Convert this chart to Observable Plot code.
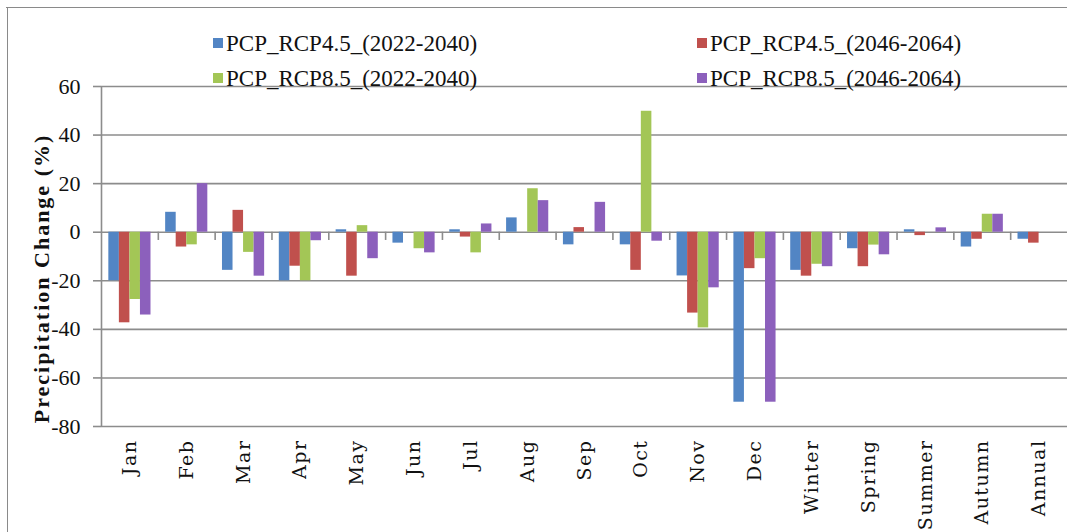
<!DOCTYPE html>
<html><head><meta charset="utf-8">
<script src="https://cdn.jsdelivr.net/npm/d3@7"></script>
<script src="https://cdn.jsdelivr.net/npm/@observablehq/plot@0.6"></script>
<style>
body{margin:0;background:#fff;}
#wrap{position:relative;width:1067px;height:532px;overflow:hidden;background:#fff;}
#wrap svg{position:absolute;left:0;top:0;}
.bt{position:absolute;left:6px;top:7px;right:0;height:0;border-top:1.5px solid #8a8a8a;}
.bl{position:absolute;left:7px;top:7px;bottom:0;width:0;border-left:1.5px solid #8a8a8a;}
.lg{position:absolute;font-family:"Liberation Serif","Times New Roman",Times,serif;font-size:23px;line-height:1;color:#111;white-space:nowrap;display:flex;align-items:center;}
.lg i{display:inline-block;width:10px;height:10px;margin-right:3px;}
.xt text{letter-spacing:1.5px;}
</style></head><body><div id="wrap"></div><script>
const categories = ["Jan","Feb","Mar","Apr","May","Jun","Jul","Aug","Sep","Oct","Nov","Dec","Winter","Spring","Summer","Autumn","Annual"];
const seriesNames = ["PCP_RCP4.5_(2022-2040)","PCP_RCP4.5_(2046-2064)","PCP_RCP8.5_(2022-2040)","PCP_RCP8.5_(2046-2064)"];
const rcp45Early = [-20, 8.2, -15.7, -20, 1.0, -4.5, 1.0, 5.9, -5.2, -5.2, -18, -70, -15.7, -6.8, 1.0, -6.1, -2.9];
const rcp45Late  = [-37.3, -6.1, 9.0, -14, -18.1, 0, -2, 0, 1.9, -15.7, -33.3, -15, -18.1, -14.2, -1.4, -2.9, -4.5];
const rcp85Early = [-27.7, -5.2, -8.3, -20, 2.7, -6.8, -8.5, 17.9, 0, 49.8, -39.4, -10.9, -13.2, -5.3, 0, 7.4, 0];
const rcp85Late  = [-34.1, 20, -18.1, -3.5, -10.9, -8.5, 3.4, 13.0, 12.3, -3.7, -22.9, -70, -14.2, -9.3, 1.8, 7.4, 0];
const yTicks = [-80,-60,-40,-20,0,20,40,60];
const yLabel = "Precipitation Change (%)";
const colors = ["#5285C4","#C0504D","#A3C656","#8C60BC"];

const allSeries = [rcp45Early, rcp45Late, rcp85Early, rcp85Late];
const data = [];
allSeries.forEach((vals, s) => vals.forEach((v, i) => data.push({cat: i, series: seriesNames[s], s, value: v})));

const outer = 0.129, bw = (1 - 2*outer) / 4;
const serif = "Liberation Serif, Times New Roman, serif";

const plot = Plot.plot({
  width: 1067, height: 532,
  marginTop: 86, marginBottom: 106, marginLeft: 101, marginRight: 0,
  style: {background: "transparent", color: "#000", overflow: "visible", fontFamily: serif},
  x: {domain: [0, categories.length], axis: null},
  y: {domain: [-80, 60], axis: null},
  color: {domain: seriesNames, range: colors},
  marks: [
    Plot.gridY(yTicks, {stroke: "#8c8c8c", strokeOpacity: 1, strokeWidth: 1.6}),
    Plot.axisY(yTicks, {tickSize: 8, tickPadding: 13, stroke: "#8c8c8c", strokeWidth: 1.6, fontSize: 22, fill: "#111", label: null, tickFormat: d => String(d)}),
    Plot.ruleX([0], {stroke: "#8c8c8c", strokeWidth: 1.6}),
    Plot.rectY(data, {
      x1: d => d.cat + outer + d.s * bw,
      x2: d => d.cat + outer + (d.s + 1) * bw,
      y1: 0, y2: "value", fill: "series"
    }),
    Plot.ruleX(d3.range(1, categories.length), {y1: 0, y2: -3.4, stroke: "#8c8c8c", strokeWidth: 1.6}),
    Plot.axisX(categories.map((c, i) => i + 0.5), {
      tickFormat: v => categories[Math.floor(v)], tickRotate: -90, tickSize: 0, tickPadding: 13,
      fontSize: 19, fontFamily: "DejaVu Serif", fill: "#111", label: null, className: "xt"
    }),
    Plot.text([yLabel], {frameAnchor: "left", textAnchor: "middle", dx: -60, dy: 22, rotate: -90, fontWeight: "bold", fontSize: 22, fontFamily: serif, fill: "#111"})
  ]
});
const wrap = document.getElementById("wrap");
wrap.appendChild(plot);
d3.select(plot).selectAll("text").filter(function(){ return this.textContent === yLabel; }).style("letter-spacing", "2px");

// border
const bt = document.createElement("div"); bt.className = "bt"; wrap.appendChild(bt);
const bl = document.createElement("div"); bl.className = "bl"; wrap.appendChild(bl);

// legend
const legendPos = [[213, 43], [697, 43], [213, 78], [697, 78]];
seriesNames.forEach((name, i) => {
  const el = document.createElement("div");
  el.className = "lg";
  el.style.left = legendPos[i][0] + "px";
  el.style.top = (legendPos[i][1] - 12) + "px";
  el.style.height = "24px";
  const sw = document.createElement("i"); sw.style.background = colors[i];
  el.appendChild(sw);
  el.appendChild(document.createTextNode(name));
  wrap.appendChild(el);
});
</script></body></html>
